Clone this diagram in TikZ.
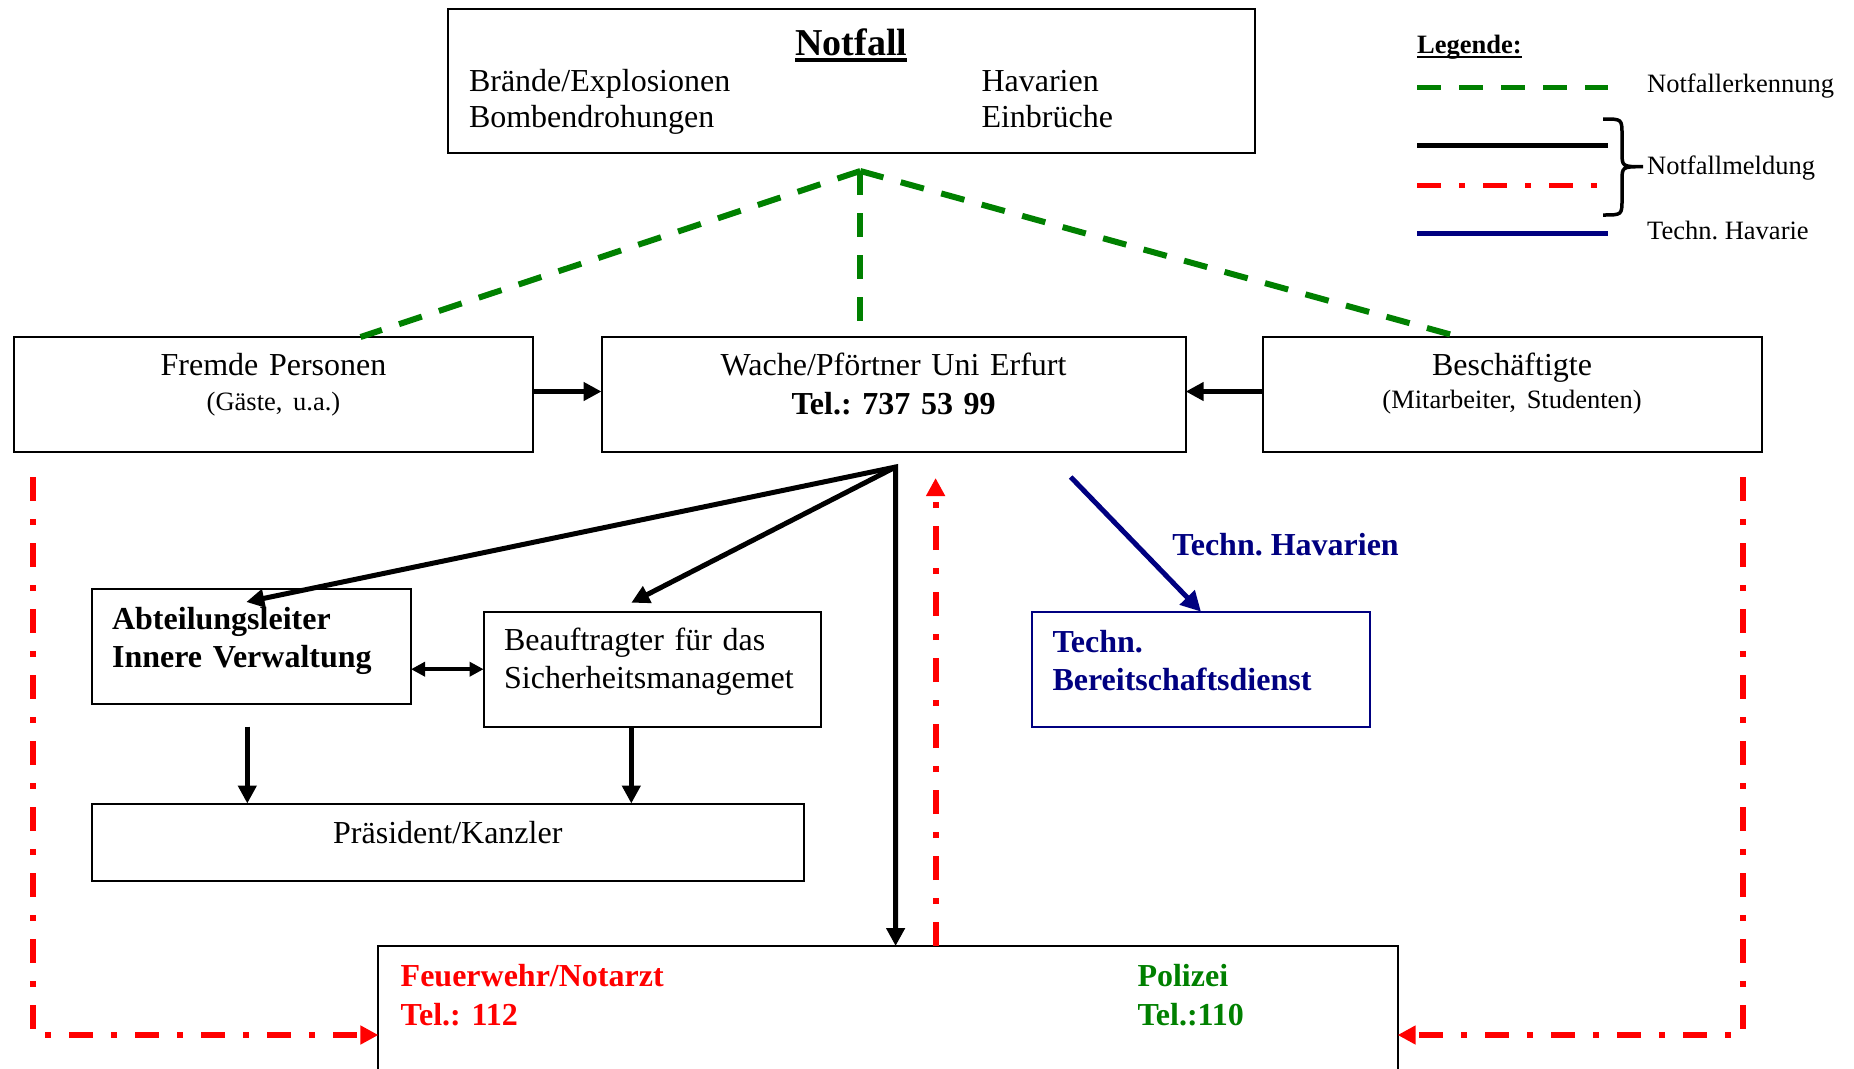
\documentclass[tikz,border=0pt]{standalone}
\usepackage{fontspec}
\setmainfont{Liberation Serif}
\usetikzlibrary{arrows.meta,calc,positioning}
\definecolor{detectgreen}{RGB}{0,128,0}
\definecolor{alarmred}{RGB}{255,0,0}
\definecolor{technavy}{RGB}{0,0,128}
\newcommand{\mainsize}{\fontsize{32}{38}\selectfont}
\newcommand{\keysize}{\fontsize{26.5}{32}\selectfont}
\newcommand{\thickul}[3]{\setbox0=\hbox{#3}\rlap{\rule[-#1]{\wd0}{#2}}\box0}
\frenchspacing
\tikzset{
    emergency plan/.style = {x=1pt, y=-1pt, font=\mainsize,
                             >={Triangle[length=18pt, width=18pt]}},
    box/.style          = {draw, line width=2pt, inner sep=0pt, outer sep=0pt,
                           align=center},
    textbox/.style      = {box, align=left, inner xsep=20.5pt},
    report line/.style  = {line width=5pt},
    detect line/.style  = {detectgreen, line width=6pt,
                           dash pattern=on 24pt off 18pt},
    alarm line/.style   = {alarmred, line width=6pt,
                           dash pattern=on 24pt off 18pt on 6pt off 18pt},
    fault line/.style   = {technavy, line width=5pt,
                           >={Triangle[length=20pt, width=20pt]}},
    legend text/.style  = {font=\keysize, anchor=base west, inner sep=0pt}
}
\begin{document}
\begin{tikzpicture}[emergency plan]
\useasboundingbox (0,0) rectangle (1854,1068);
\clip (0,0) rectangle (1854,1068);

\node[box, anchor=north west, inner xsep=21pt, text width=764.5pt,
      text height=46.5pt, text depth=97.5pt] (notfall) at (448,8.5)
    {\fontsize{32}{36}\selectfont
     \begin{tabular}[t]{@{}p{512.5pt}@{}p{252pt}@{}}
     \multicolumn{2}{@{}c@{}}{\fontsize{38}{36}\selectfont\bfseries
                              \thickul{7pt}{4pt}{Notfall}}\\
     Brände/Explosionen & Havarien\\
     Bombendrohungen    & Einbrüche
     \end{tabular}};

\node[box, anchor=north west, text width=519pt,
      text height=38pt, text depth=77pt] (fremde) at (14,337)
    {Fremde Personen\\[-3pt]{\keysize (Gäste, u.a.)}};
\node[box, right=68.5pt of fremde, text width=584.2pt,
      text height=38pt, text depth=77pt] (wache)
    {Wache/Pförtner Uni Erfurt\\[1pt]\textbf{Tel.: 737 53 99}};
\node[box, right=76.8pt of wache, text width=499pt,
      text height=38pt, text depth=77pt] (besch)
    {Beschäftigte\\[-5pt]{\keysize (Mitarbeiter, Studenten)}};

\node[textbox, anchor=north west, text width=278.4pt,
      text height=40.5pt, text depth=75pt] (abteil) at (91.6,588.5)
    {\bfseries Abteilungsleiter\\Innere Verwaltung};
\node[textbox, anchor=north west, text width=296.4pt,
      text height=39pt, text depth=76pt] (beauf) at (483.6,611.7)
    {Beauftragter für das\\Sicherheitsmanagemet};
\node[box, anchor=north west, text width=712.4pt,
      text height=39.8pt, text depth=37.2pt] (praes) at (91.6,803.5)
    {Präsident/Kanzler};
\node[textbox, draw=technavy, text=technavy, anchor=north west,
      text width=297pt, text height=40.6pt, text depth=74.4pt] (techn)
    at (1032,611.7) {\bfseries Techn.\\Bereitschaftsdienst};

\node[textbox, anchor=north west, inner xsep=22.3pt, text width=974.6pt,
      text height=40.7pt, text depth=137.3pt] (feuer) at (378.4,946)
    {\bfseries
     \begin{tabular}[t]{@{}p{736.8pt}@{}l@{}}
     \textcolor{alarmred}{Feuerwehr/Notarzt} & \textcolor{detectgreen}{Polizei}\\[1pt]
     \textcolor{alarmred}{Tel.: 112}         & \textcolor{detectgreen}{Tel.:110}
     \end{tabular}};

\coordinate (apex) at ($(notfall.south)+(9,18.5)$);
\coordinate (gate) at ($(wache.north)+(0,-15)$);
\draw[detect line] (apex) -- ($(fremde.north)+(87,0)$);
\draw[detect line] (apex) -- (apex |- gate);
\draw[detect line] (apex) -- ($(besch.north)+(-52.5,0)$);

\draw[report line, ->] ([yshift=3pt]fremde.east) -- ([yshift=3pt]wache.west);
\draw[report line, ->] ([yshift=3pt]besch.west) -- ([yshift=3pt]wache.east);
\coordinate (fork) at ($(wache.south)+(2,15)$);
\draw[report line, <->] ($(abteil.north)+(-5,13.5)$) -- (fork)
    -- (fork |- feuer.north);
\draw[report line, ->] (fork) -- ($(beauf.north)+(-21,-9)$);
\draw[line width=4pt, {Triangle[length=14pt, width=14pt]}-{Triangle[length=14pt, width=14pt]}]
    (abteil.east |- beauf.west) -- (beauf.west);
\coordinate (adown) at ($(abteil.south)+(-4,0)$);
\coordinate (bdown) at ($(beauf.south)+(-21,0)$);
\draw[report line, ->] (adown |- beauf.south) -- (adown |- praes.north);
\draw[report line, ->] (bdown) -- (bdown |- praes.north);

\coordinate (callL) at ($(fremde.south west)+(19,25)$);
\coordinate (callR) at ($(besch.south east)+(-19,25)$);
\coordinate (callM) at ($(wache.south)+(42,26)$);
\draw[alarm line, ->] (callL) |- (feuer.west);
\draw[alarm line, ->] (callR) |- (feuer.east);
\draw[alarm line, ->] (callM |- feuer.north) -- (callM);

\coordinate (hstart) at ($(wache.south east)+(-115,25)$);
\draw[fault line, ->] (hstart) -- (techn.north)
    node[midway, right=34pt, inner sep=0pt, font=\mainsize\bfseries] (havlabel)
    {Techn. Havarien};

% legend
\node[legend text, font=\keysize\bfseries] (legend) at (1417,53)
    {\thickul{5pt}{2pt}{Legende:}};
\draw[detect line, line width=5pt] (1417,87.5) -- (1608,87.5);
\draw[report line] (1417,145) -- (1608,145);
\draw[alarm line, line width=5pt] (1417,185.7) -- (1597,185.7);
\draw[fault line] (1417,233.3) -- (1608,233.3);
\draw[line width=3.5pt] (1603,119) .. controls (1622,119) .. (1622,135)
    -- (1622,152) .. controls (1622,166.7) .. (1643,166.7)
    .. controls (1622,166.7) .. (1622,181) -- (1622,199)
    .. controls (1622,215) .. (1603,215);
\node[legend text] (lgdetect) at (1647,92.7) {Notfallerkennung};
\node[legend text] (lgreport) at (1647,174) {Notfallmeldung};
\node[legend text] (lgfault) at (1647,239) {Techn. Havarie};
\end{tikzpicture}
\end{document}
